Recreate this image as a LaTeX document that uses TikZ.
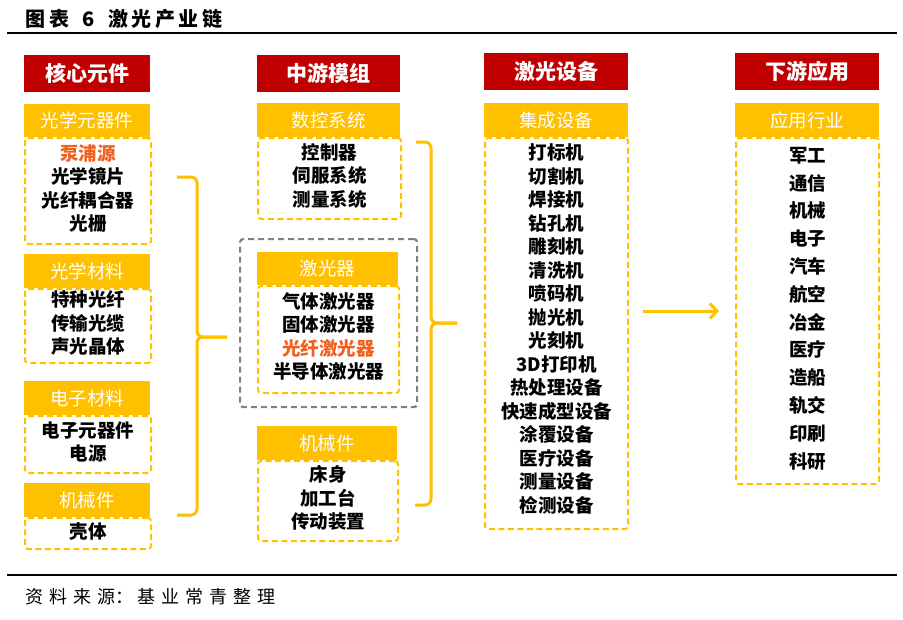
\documentclass[tikz,border=0pt]{standalone}
\usepackage{fontspec}
\setmainfont{Noto Sans CJK SC}
\usetikzlibrary{arrows.meta}
\definecolor{hdred}{RGB}{192,0,0}
\definecolor{hdyel}{RGB}{255,192,0}
\definecolor{itorg}{RGB}{240,96,32}
\definecolor{dgray}{RGB}{128,128,128}
\newcommand{\hiorg}[1]{\textcolor{itorg}{#1}}
\newcommand{\lowstrut}[1]{\rule[-#1]{0pt}{#1}}
\begin{document}
\begin{tikzpicture}[x=1pt,y=-1pt,
  redhead/.style={fill=hdred, text=white, font=\fontsize{21}{24}\selectfont\bfseries,
    minimum height=37pt, inner sep=0pt, anchor=north west},
  yelhead/.style={fill=hdyel, text=white, font=\fontsize{18.5}{22}\selectfont,
    minimum height=34pt, inner sep=0pt, anchor=north west},
  itembox/.style={draw=hdyel, line width=2pt, dash pattern=on 6pt off 3.5pt,
    rounded corners=3pt, align=center, inner sep=0pt, anchor=north west,
    font=\fontsize{18.5}{23.5}\selectfont\bfseries},
  graybox/.style={draw=dgray, line width=2.2pt, dash pattern=on 6pt off 4pt,
    rounded corners=3pt, inner sep=0pt, anchor=north west},
  bracket/.style={draw=hdyel, line width=3pt, rounded corners=6pt},
  arrowline/.style={draw=hdyel, line width=3pt, -{Straight Barb[length=7pt,width=15pt]}},
  rulestyle/.style={draw=black, line width=2pt}
]
\useasboundingbox[fill=white] (0,0) rectangle (903,619);

% title and rules
\node[anchor=west, inner sep=0pt, font=\fontsize{20}{24}\selectfont\bfseries] (title) at (25,19)
  {图\kern4pt表\kern13pt6\kern14pt激\kern3.5pt光\kern3.5pt产\kern3.5pt业\kern3.5pt链};
\coordinate (r1a) at (7,32.5);
\coordinate (r1b) at (897,32.5);
\draw[rulestyle] (r1a) -- (r1b);
\coordinate (r2a) at (7,575);
\coordinate (r2b) at (897,575);
\draw[rulestyle, line width=1.6pt] (r2a) -- (r2b);
\node[anchor=west, inner sep=0pt, font=\fontsize{18}{22}\selectfont] (source) at (25,597)
  {资\kern6pt料\kern6pt来\kern6pt源：\kern4pt基\kern6pt业\kern6pt常\kern6pt青\kern6pt整\kern6pt理};

% column 1
\node[redhead, minimum width=126pt] (h1) at (24,55) {核心元件};
\node[yelhead, minimum width=126pt, minimum height=33pt] (y11) at (24,104) {光学元器件};
\node[itembox, minimum width=126pt, minimum height=106pt] (b11) at (24,137)
  {\hiorg{泵浦源}\\光学镜片\\光纤耦合器\\光栅\lowstrut{7pt}};
\node[yelhead, minimum width=126pt] (y12) at (24,254) {光学材料};
\node[itembox, minimum width=126pt, minimum height=74pt] (b12) at (24,288)
  {特种光纤\\传输光缆\\声光晶体\lowstrut{7pt}};
\node[yelhead, minimum width=126pt] (y13) at (24,381) {电子材料};
\node[itembox, minimum width=126pt, minimum height=57pt] (b13) at (24,415)
  {电子元器件\\电源\lowstrut{7pt}};
\node[yelhead, minimum width=126pt] (y14) at (24,483) {机械件};
\node[itembox, minimum width=126pt, minimum height=31pt] (b14) at (24,517) {壳体\lowstrut{6pt}};

% bracket 1
\coordinate (k1a) at (177,177);
\coordinate (k1m) at (197,337);
\coordinate (k1t) at (227,337);
\coordinate (k1b) at (177,515);
\draw[bracket] (k1a) -| (k1m) -- (k1t);
\draw[bracket] (k1b) -| (k1m) -- (k1t);

% column 2
\node[redhead, minimum width=143pt] (h2) at (257,55) {中游模组};
\node[yelhead, minimum width=143pt] (y21) at (257,103) {数控系统};
\node[itembox, minimum width=143pt, minimum height=81pt] (b21) at (257,137)
  {控制器\\伺服系统\\测量系统\lowstrut{7pt}};
\node[graybox, minimum width=177pt, minimum height=168pt] (g2) at (239,238) {};
\node[yelhead, minimum width=141pt, minimum height=33pt] (y22) at (257,252) {激光器};
\node[itembox, minimum width=141pt, minimum height=107pt] (b22) at (257,285)
  {气体激光器\\固体激光器\\\hiorg{光纤激光器}\\半导体激光器\lowstrut{8pt}};
\node[yelhead, minimum width=140pt] (y23) at (257,426) {机械件};
\node[itembox, minimum width=140pt, minimum height=80pt] (b23) at (257,460)
  {床身\\加工台\\传动装置\lowstrut{8pt}};

% bracket 2
\coordinate (k2a) at (416,142);
\coordinate (k2m) at (431,323);
\coordinate (k2t) at (457,323);
\coordinate (k2b) at (415,505);
\draw[bracket] (k2a) -| (k2m) -- (k2t);
\draw[bracket] (k2b) -| (k2m) -- (k2t);

% column 3
\node[redhead, minimum width=144pt] (h3) at (484,53) {激光设备};
\node[yelhead, minimum width=144pt] (y31) at (484,103) {集成设备};
\node[itembox, minimum width=143pt, minimum height=391pt] (b31) at (484,137)
  {打标机\\切割机\\焊接机\\钻孔机\\雕刻机\\清洗机\\喷码机\\抛光机\\光刻机\\3D打印机\\热处理设备\\快速成型设备\\涂覆设备\\医疗设备\\测量设备\\检测设备\lowstrut{11pt}};

% arrow
\coordinate (a1) at (643,311);
\coordinate (a2) at (719,311);
\draw[arrowline] (a1) -- (a2);

% column 4
\node[redhead, minimum width=144pt] (h4) at (735,53) {下游应用};
\node[yelhead, minimum width=144pt] (y41) at (735,103) {应用行业};
\node[itembox, minimum width=143pt, minimum height=346pt,
  font=\fontsize{18.5}{27.8}\selectfont\bfseries] (b41) at (735,137)
  {军工\\通信\\机械\\电子\\汽车\\航空\\冶金\\医疗\\造船\\轨交\\印刷\\科研\lowstrut{7pt}};
\end{tikzpicture}
\end{document}
